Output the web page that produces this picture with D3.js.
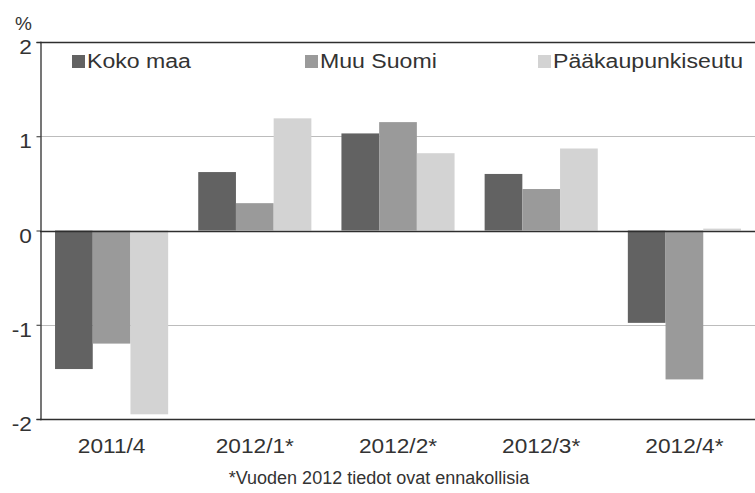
<!DOCTYPE html>
<html>
<head>
<meta charset="utf-8">
<script src="https://cdn.jsdelivr.net/npm/d3@7"></script>
<style>
  html, body { margin: 0; padding: 0; background: #fff; }
  svg { display: block; }
  text { font-family: "Liberation Sans", Arial, sans-serif; fill: #333; }
</style>
</head>
<body>
<script>
const categories = ["2011/4", "2012/1*", "2012/2*", "2012/3*", "2012/4*"];
const seriesNames = ["Koko maa", "Muu Suomi", "Pääkaupunkiseutu"];
const kokoMaa = [-1.47, 0.62, 1.03, 0.60, -0.98];
const muuSuomi = [-1.20, 0.29, 1.15, 0.44, -1.58];
const paakaupunkiseutu = [-1.95, 1.19, 0.82, 0.87, 0.02];
const yTicks = [-2, -1, 0, 1, 2];
const unitLabel = "%";
const footnote = "*Vuoden 2012 tiedot ovat ennakollisia";

const seriesValues = [kokoMaa, muuSuomi, paakaupunkiseutu];
const colors = ["#626262", "#9a9a9a", "#d3d3d3"];

const W = 755, H = 493;
const svg = d3.select("body").append("svg").attr("width", W).attr("height", H);

const mLeft = 40, mRight = 756, mTop = 42, mBottom = 419;

const x0 = d3.scaleBand().domain(categories).range([mLeft, mRight])
  .paddingInner(0.21).paddingOuter(0.105);
const x1 = d3.scaleBand().domain(seriesNames).range([0, x0.bandwidth()]);
const y = d3.scaleLinear().domain([-2, 2]).range([mBottom, mTop]);

// gridlines
svg.append("g").selectAll("line").data(yTicks.filter(d => d === 1 || d === -1))
  .join("line")
  .attr("x1", mLeft).attr("x2", W)
  .attr("y1", d => Math.round(y(d)) + 0.5).attr("y2", d => Math.round(y(d)) + 0.5)
  .attr("stroke", "#bcbcbc").attr("stroke-width", 1);

// bars
const rows = categories.map((c, i) => ({ cat: c, vals: seriesNames.map((s, j) => ({ s, j, v: seriesValues[j][i] })) }));
svg.append("g").selectAll("g").data(rows).join("g")
  .attr("transform", d => `translate(${x0(d.cat)},0)`)
  .selectAll("rect").data(d => d.vals).join("rect")
  .attr("x", d => x1(d.s))
  .attr("width", x1.bandwidth())
  .attr("y", d => y(Math.max(0, d.v)))
  .attr("height", d => Math.abs(y(d.v) - y(0)))
  .attr("fill", d => colors[d.j]);

// frame lines
const axisColor = "#2e2e2e";
[mTop, y(0), mBottom].forEach(v => {
  svg.append("line").attr("x1", mLeft).attr("x2", W)
    .attr("y1", Math.round(v) + 0.5).attr("y2", Math.round(v) + 0.5)
    .attr("stroke", axisColor).attr("stroke-width", 1.3);
});

// y axis
const yAxis = d3.axisLeft(y).tickValues(yTicks).tickSize(4).tickPadding(4)
  .tickFormat(d => String(d));
const gy = svg.append("g").attr("transform", `translate(${mLeft + 0.5},0)`).call(yAxis);
gy.select(".domain").attr("stroke", axisColor).attr("stroke-width", 1.3);
gy.selectAll(".tick line").attr("stroke", axisColor);
gy.selectAll(".tick text").attr("font-size", 21).attr("dy", "0.55em")
  .attr("transform", "scale(1.08,1)")
  .style("font-family", '"Liberation Sans", Arial, sans-serif').attr("fill", "#333");

// x axis labels
const xAxis = d3.axisBottom(x0).tickSize(0).tickPadding(19);
const gx = svg.append("g").attr("transform", `translate(0,${mBottom})`).call(xAxis);
gx.select(".domain").remove();
gx.selectAll(".tick text").attr("font-size", 21)
  .attr("transform", "scale(1.08,1)")
  .style("font-family", '"Liberation Sans", Arial, sans-serif').attr("fill", "#333");

// unit label
svg.append("text").attr("x", 15).attr("y", 30).attr("font-size", 19).text(unitLabel);

// legend
const legendX = [72, 305, 538];
const lg = svg.append("g").selectAll("g").data(seriesNames).join("g")
  .attr("transform", (d, i) => `translate(${legendX[i]},55)`);
lg.append("rect").attr("width", 13).attr("height", 13).attr("fill", (d, i) => colors[i]);
lg.append("text").attr("transform", "translate(15,13) scale(1.1,1)")
  .attr("font-size", 21).text(d => d);

// footnote
svg.append("text").attr("x", 379).attr("y", 484).attr("text-anchor", "middle")
  .attr("font-size", 18).text(footnote);
</script>
</body>
</html>
